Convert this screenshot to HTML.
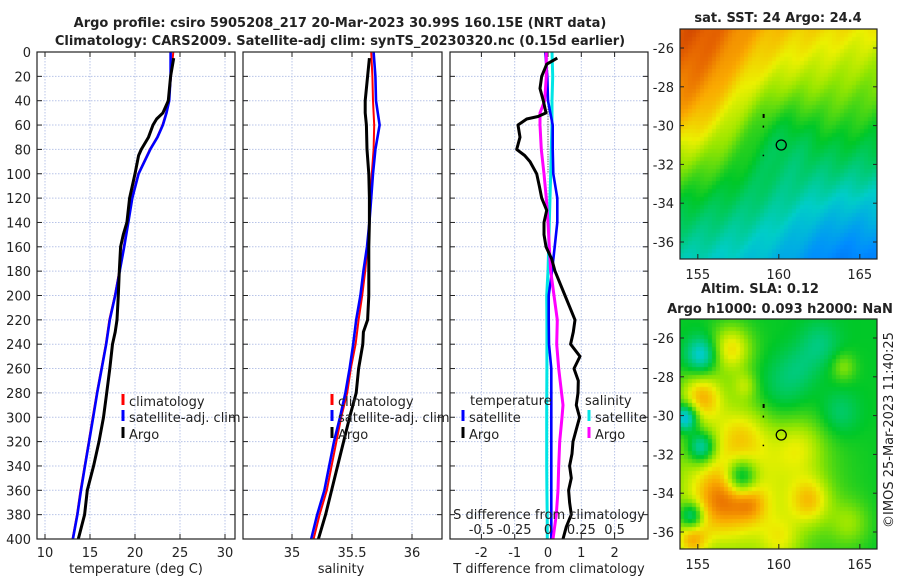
<!DOCTYPE html>
<html><head><meta charset="utf-8"><style>
body{margin:0;background:#fff;}
#root{position:relative;width:900px;height:580px;overflow:hidden;font-family:"DejaVu Sans","Liberation Sans",sans-serif;}
canvas{position:absolute;}
svg{position:absolute;left:0;top:0;}
</style></head><body>
<div id="root">
<canvas id="sst" width="197" height="230" style="left:680px;top:29px"></canvas>
<canvas id="sla" width="197" height="230" style="left:680px;top:319px"></canvas>
<svg id="svg" width="900" height="580"></svg>
</div>
<script>
// ---- data ----
const tDepthArgo=[5,20,40,50,55,60,70,80,85,100,120,140,150,160,180,200,220,230,240,260,280,300,320,340,360,380,400];
const tArgo=[24.3,23.96,23.7,23.1,22.4,22.0,21.5,20.7,20.4,20.0,19.4,19.1,18.7,18.4,18.26,18.15,18.0,17.8,17.5,17.2,16.85,16.5,16.0,15.4,14.7,14.4,13.7];
const climDepth=[0,20,40,50,60,70,80,100,120,140,160,180,200,220,240,260,280,300,320,340,360,380,400];
const tSat=[23.96,23.96,23.8,23.5,23.1,22.5,21.7,20.4,19.7,19.26,18.8,18.3,17.8,17.2,16.8,16.3,15.8,15.35,14.9,14.45,14.0,13.6,13.1];
const tClim=[24.25,24.0,23.75,23.45,23.05,22.45,21.65,20.35,19.65,19.2,18.75,18.25,17.75,17.15,16.75,16.25,15.75,15.3,14.85,14.4,13.95,13.55,13.05];
const sDepthArgo=[5,20,40,50,60,80,100,120,140,160,180,200,220,230,240,260,280,300,320,340,360,380,400];
const sArgo=[35.645,35.63,35.61,35.61,35.62,35.625,35.64,35.645,35.645,35.64,35.64,35.64,35.63,35.595,35.59,35.555,35.535,35.48,35.43,35.38,35.33,35.28,35.22];
const sDepthClim=[0,20,40,50,60,80,100,120,140,160,180,200,220,240,260,280,300,320,340,360,380,400];
const sSat=[35.68,35.695,35.7,35.715,35.73,35.695,35.675,35.66,35.645,35.625,35.595,35.57,35.535,35.51,35.48,35.445,35.40,35.35,35.31,35.27,35.21,35.16];
const sClim=[35.66,35.67,35.675,35.68,35.685,35.68,35.665,35.655,35.645,35.63,35.61,35.585,35.555,35.53,35.49,35.46,35.41,35.37,35.33,35.29,35.23,35.18];
const dDepthArgo=[5,10,20,30,40,50,53,55,60,70,80,85,90,100,110,120,130,140,150,160,170,180,190,200,210,220,230,240,250,260,270,280,290,300,310,320,330,340,350,360,370,380,390,400];
const dTArgo=[0.28,-0.04,-0.19,-0.24,-0.14,-0.06,-0.3,-0.64,-0.9,-0.84,-0.94,-0.7,-0.54,-0.34,-0.26,-0.19,-0.04,-0.12,-0.12,-0.06,0.11,0.21,0.36,0.51,0.66,0.81,0.76,0.68,0.96,0.78,0.91,0.9,0.85,0.95,0.85,0.75,0.72,0.65,0.7,0.62,0.65,0.7,0.55,0.45];
const dDepth=[0,20,40,50,60,80,100,120,140,160,180,200,220,240,260,290,300,320,340,360,380,400];
const dSArgo=[-0.0125,-0.0125,-0.025,-0.06,-0.06,-0.05,-0.03,-0.0125,0,0.01,0.02,0.045,0.07,0.065,0.08,0.1125,0.105,0.0875,0.08,0.075,0.0625,0.0375];
const dTSat=[-0.08,-0.02,0.0,0.07,0.14,0.14,0.16,0.28,0.28,0.2,0.12,0.02,0.02,0.03,0.1,0.1,0.1,0.1,0.1,0.1,0.1,0.1];
const dSSat=[0.03,0.035,0.03,0.03,0.03,0.025,0.02,0.015,0.01,0.005,0,-0.01,-0.008,-0.008,-0.008,-0.01,-0.01,-0.01,-0.01,-0.008,-0.006,-0.005];
const yTicks=[0,20,40,60,80,100,120,140,160,180,200,220,240,260,280,300,320,340,360,380,400];
const tTicks=[10,15,20,25,30];
const sTicks=[35,35.5,36];
const sTickLabels=["35","35.5","36"];
const dTicks=[-2,-1,0,1,2];
const dsTicks=[-0.5,-0.25,0,0.25,0.5];
const dsTickLabels=["-0.5","-0.25","0","0.25","0.5"];
const lonTicks=[155,160,165];
const latTicks=[-26,-28,-30,-32,-34,-36];

// ---- scales ----
const TOP=52,BOT=539;
const yD=d=>TOP+d*(BOT-TOP)/400;
const xT=v=>45+(v-10)*9;
const xS=v=>292+(v-35)*120;
const xD=v=>548+v*33.3;
const xDS=v=>548+v*133.2;
const mapLon=v=>680+(v-153.9)*16.2;
const mapLat1=v=>48+(-26-v)*19.4;
const mapLat2=v=>338+(-26-v)*19.4;

const NS="http://www.w3.org/2000/svg";
const svg=document.getElementById('svg');
function el(tag,attrs,parent){const e=document.createElementNS(NS,tag);for(const k in attrs)e.setAttribute(k,attrs[k]);(parent||svg).appendChild(e);return e;}
function txt(x,y,s,o){o=o||{};const t=el('text',{x:x,y:y,'font-size':o.size||13,'text-anchor':o.anchor||'middle',fill:o.fill||'#222','font-weight':o.bold?'bold':'normal','font-family':'DejaVu Sans, Liberation Sans, sans-serif'});if(o.rot)t.setAttribute('transform','rotate(-90 '+x+' '+y+')');t.textContent=s;return t;}

function panel(x0,x1,name){
  const g=el('g',{});
  
  
  el('rect',{x:x0,y:TOP,width:x1-x0,height:BOT-TOP,fill:'#fff'},g);
  yTicks.forEach(d=>{
    if(d>0&&d<400){const l=el('line',{x1:x0,x2:x1,y1:yD(d),y2:yD(d),stroke:'#b8c4e8','stroke-width':1,'stroke-dasharray':'1.5,1.5'},g);
      }
    el('line',{x1:x0,x2:x0+5,y1:yD(d),y2:yD(d),stroke:'#222'},g);
    el('line',{x1:x1-5,x2:x1,y1:yD(d),y2:yD(d),stroke:'#222'},g);
  });
  return g;
}
function vgrid(g,x){const l=el('line',{x1:x,x2:x,y1:TOP,y2:BOT,stroke:'#b8c4e8','stroke-width':1,'stroke-dasharray':'1.5,1.5'},g);
  
  el('line',{x1:x,x2:x,y1:BOT-5,y2:BOT,stroke:'#222'},g);el('line',{x1:x,x2:x,y1:TOP,y2:TOP+5,stroke:'#222'},g);}
function frame(g,x0,x1){el('rect',{x:x0,y:TOP,width:x1-x0,height:BOT-TOP,fill:'none',stroke:'#222','stroke-width':1.2},g);}
function line(g,xs,ds,sx,color,w,name,dash){
  const pts=xs.map((v,i)=>sx(v).toFixed(1)+','+yD(ds[i]).toFixed(1)).join(' ');
  const p=el('polyline',{points:pts,fill:'none',stroke:color,'stroke-width':w,'stroke-linejoin':'round'},g);
  if(dash)p.setAttribute('stroke-dasharray',dash);
  
  
  return p;
}
function legItem(x,y,color,label,name){
  const g=el('g',{});
  
  
  el('rect',{x:x-1.5,y:y-12,width:3,height:11,fill:color},g);
  const t=txt(x+6,y,label,{anchor:'start'});g.appendChild(t);
}

// titles
const t1=txt(340,27,'Argo profile: csiro 5905208_217 20-Mar-2023 30.99S 160.15E (NRT data)',{bold:true});

const t2=txt(340,45,'Climatology: CARS2009. Satellite-adj clim: synTS_20230320.nc (0.15d earlier)',{bold:true});


// panel 1 temperature
let g=panel(37,235,'temperature-panel');
tTicks.forEach(v=>{vgrid(g,xT(v));const t=txt(xT(v),557,String(v));});
yTicks.forEach(d=>{const t=txt(31,yD(d)+5,String(d),{anchor:'end'});});
line(g,tClim,climDepth,xT,'#ff0000',2,'temperature-climatology-line');
line(g,tSat,climDepth,xT,'#0000ff',2.6,'temperature-satellite-line');
line(g,tArgo,tDepthArgo,xT,'#000',3,'temperature-argo-line');
frame(g,37,235);
let xl=txt(136,573,'temperature (deg C)');
legItem(123,406,'#ff0000','climatology','legend-climatology');
legItem(123,422,'#0000ff','satellite-adj. clim','legend-satellite-adj');
legItem(123,439,'#000','Argo','legend-argo');

// panel 2 salinity
g=panel(243,442,'salinity-panel');
sTicks.forEach((v,i)=>{vgrid(g,xS(v));const t=txt(xS(v),557,sTickLabels[i]);});
line(g,sClim,sDepthClim,xS,'#ff0000',2,'salinity-climatology-line');
line(g,sSat,sDepthClim,xS,'#0000ff',2.6,'salinity-satellite-line');
line(g,sArgo,sDepthArgo,xS,'#000',3,'salinity-argo-line');
frame(g,243,442);
xl=txt(341,573,'salinity');
legItem(332,406,'#ff0000','climatology','legend-climatology-2');
legItem(332,422,'#0000ff','satellite-adj. clim','legend-satellite-adj-2');
legItem(332,439,'#000','Argo','legend-argo-2');

// panel 3 differences
g=panel(450,648,'difference-panel');
dTicks.forEach(v=>{vgrid(g,xD(v));const t=txt(xD(v),557,String(v));});
line(g,[0,0],[20,100],xD,'#444',1,'zero-dotted-line','1,1.5');
line(g,dSSat,dDepth,xDS,'#00e5e5',3,'salinity-satellite-diff-line');
line(g,dTSat,dDepth,xD,'#0000ff',2.6,'temperature-satellite-diff-line');
line(g,dSArgo,dDepth,xDS,'#ff00ff',3,'salinity-argo-diff-line');
line(g,dTArgo,dDepthArgo,xD,'#000',3,'temperature-argo-diff-line');
frame(g,450,648);
xl=txt(549,573,'T difference from climatology');
xl=txt(549,519,'S difference from climatology');
dsTicks.forEach((v,i)=>{const t=txt(xDS(v)*0.5+xD(v*4)*0.5,534,dsTickLabels[i]);});
let lt=txt(470,405,'temperature',{anchor:'start'});
lt=txt(585,405,'salinity',{anchor:'start'});
legItem(463,422,'#0000ff','satellite','legend-t-satellite');
legItem(463,439,'#000','Argo','legend-t-argo');
legItem(589,422,'#00e5e5','satellite','legend-s-satellite');
legItem(589,439,'#ff00ff','Argo','legend-s-argo');

// maps axes
function mapAxes(y0,latf,name){
  const g=el('g',{});
  
  
  el('rect',{x:680,y:y0,width:197,height:230,fill:'none',stroke:'#222','stroke-width':1.2},g);
  lonTicks.forEach(v=>{el('line',{x1:mapLon(v),x2:mapLon(v),y1:y0+230,y2:y0+225,stroke:'#222'},g);
    const t=txt(mapLon(v),y0+250,String(v));});
  latTicks.forEach(v=>{el('line',{x1:680,x2:684,y1:latf(v),y2:latf(v),stroke:'#222'},g);el('line',{x1:877,x2:873,y1:latf(v),y2:latf(v),stroke:'#222'},g);
    const t=txt(674,latf(v)+5,String(v),{anchor:'end'});});
  const cy=latf(-31);
  el('circle',{cx:mapLon(160.15),cy:cy,r:5,fill:'none',stroke:'#000','stroke-width':1.3},g);
  el('rect',{x:mapLon(159),y:latf(-29.4),width:2,height:4,fill:'#000'},g);
  el('rect',{x:mapLon(159),y:latf(-30),width:1.5,height:2,fill:'#000'},g);
  el('rect',{x:mapLon(159),y:latf(-31.5),width:1.5,height:1.5,fill:'#000'},g);
  return g;
}
mapAxes(29,mapLat1,'sst-map-axes');
mapAxes(319,mapLat2,'sla-map-axes');
let mt=txt(778,22,'sat. SST: 24 Argo: 24.4',{bold:true});
mt=txt(760,293,'Altim. SLA: 0.12',{bold:true});
mt=txt(780,313,'Argo h1000: 0.093 h2000: NaN',{bold:true});
mt=txt(893,430,'©IMOS 25-Mar-2023 11:40:25',{rot:true});

// map rasters (background imagery)
const CM=[[0,[0,60,220]],[0.2,[0,140,255]],[0.35,[0,205,200]],[0.5,[0,200,40]],[0.62,[150,230,0]],[0.7,[235,240,0]],[0.8,[250,170,0]],[0.9,[230,100,0]],[1,[180,30,0]]];
function cmap(v){v=Math.max(0,Math.min(1,v));for(let i=1;i<CM.length;i++){if(v<=CM[i][0]){const a=CM[i-1],b=CM[i],t=(v-a[0])/(b[0]-a[0]);return 'rgb('+[0,1,2].map(k=>Math.round(a[1][k]+(b[1][k]-a[1][k])*t)).join(',')+')';}}return 'rgb(180,30,0)';}
function draw(id,f){const c=document.getElementById(id).getContext('2d');const s=4;for(let y=0;y<230;y+=s)for(let x=0;x<197;x+=s){c.fillStyle=cmap(f(x/197,y/230));c.fillRect(x,y,s,s);}}
const G=(u,w,cu,cw,r)=>Math.exp(-((u-cu)*(u-cu)+(w-cw)*(w-cw))/(r*r));
draw('sst',(u,w)=>0.82-0.45*w-0.12*u+0.1*G(u,w,0.1,0.05,0.25)+0.12*G(u,w,0.0,0.35,0.25)-0.08*G(u,w,0.5,0.45,0.2)-0.1*G(u,w,0.8,1,0.3)+0.012*Math.sin(u*40+w*23));
draw('sla',(u,w)=>{let v=0.5+0.2*G(u,w,0.3,0.7,0.4);
 [[0.25,0.12,0.1,0.2],[0.1,0.33,0.1,0.22],[0.3,0.5,0.12,0.1],[0.2,0.78,0.14,0.2],[0.35,0.8,0.08,0.12],[0.65,0.78,0.1,0.18],[0.05,0.95,0.08,0.2],[0.6,0.55,0.12,0.1],[0.5,0.95,0.1,0.1],[0.85,0.88,0.1,0.1],[0.82,0.2,0.06,0.1],[0.32,0.28,0.06,0.1]].forEach(b=>v+=b[3]*G(u,w,b[0],b[1],b[2]));
 [[0.1,0.15,0.08,0.2],[0.02,0.42,0.06,0.3],[0.1,0.55,0.07,0.25],[0.3,0.68,0.08,0.28],[0.05,0.85,0.06,0.25],[0.5,0.3,0.15,0.1],[0.8,0.4,0.1,0.08],[0.7,0.1,0.1,0.08],[0.6,0.2,0.1,0.05]].forEach(b=>v-=b[3]*G(u,w,b[0],b[1],b[2]));
 return v;});
</script>
</body></html>
